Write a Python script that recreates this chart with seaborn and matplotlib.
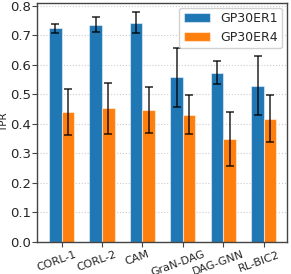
import pandas as pd
import seaborn as sns
import numpy as np
import matplotlib.pyplot as plt
import matplotlib.transforms as mtransforms

# TPR values
methods = ['CORL-1', 'CORL-2', 'CAM', 'GraN-DAG', 'DAG-GNN', 'RL-BIC2']
er1_mean = [0.723, 0.735, 0.743, 0.557, 0.573, 0.528]
er1_err = [0.016, 0.025, 0.036, 0.100, 0.038, 0.100]
er4_mean = [0.439, 0.452, 0.447, 0.431, 0.348, 0.417]
er4_err = [0.078, 0.086, 0.078, 0.065, 0.093, 0.080]
series = ['GP30ER1', 'GP30ER4']

df = pd.DataFrame({
    'Method': methods * 2,
    'TPR': er1_mean + er4_mean,
    'err': er1_err + er4_err,
    'Dataset': [series[0]] * len(methods) + [series[1]] * len(methods),
})

sns.set_style('whitegrid')
plt.rcParams['font.family'] = ['DejaVu Sans']

fig, ax = plt.subplots(figsize=(2.91, 2.74), dpi=100)
sns.barplot(data=df, x='Method', y='TPR', hue='Dataset', palette=['#1f77b4', '#ff7f0e'],
            width=0.62, gap=0, errorbar=None, edgecolor=(1, 1, 1, 0.5), linewidth=0.8,
            saturation=1, ax=ax)

# error bars at bar centres
for cont, err in zip(ax.containers, [er1_err, er4_err]):
    xs = [b.get_x() + b.get_width() / 2 for b in cont]
    ys = [b.get_height() for b in cont]
    ax.errorbar(xs, ys, yerr=err, fmt='none', ecolor='black', elinewidth=1.1,
                capsize=3, capthick=1.1, alpha=0.85)

ax.set_xlim(-0.6, 5.57)
ax.set_ylim(0, 0.81)
ax.set_yticks(np.arange(0, 0.81, 0.1))
ax.set_xlabel('')
ax.set_ylabel('TPR', fontsize=7.5, labelpad=1)
ax.tick_params(axis='y', labelsize=9.5, length=3.5, color='#444444', left=True, pad=1)
ax.tick_params(axis='x', labelsize=8, length=3.5, color='#444444', bottom=True, pad=2)
# rotated labels sit a little left of their ticks
shift = mtransforms.ScaledTranslation(-5 / 100, 0, fig.dpi_scale_trans)
for lbl in ax.get_xticklabels():
    lbl.set_rotation(20)
    lbl.set_transform(lbl.get_transform() + shift)
ax.grid(axis='x', visible=False)
ax.grid(axis='y', linestyle=':', color='#cccccc', linewidth=0.8)
for s in ax.spines.values():
    s.set_color('#444444')
    s.set_linewidth(1)

ax.legend(title=None, loc='upper right', fontsize=9, frameon=True, borderpad=0.35,
          handlelength=2.1, handleheight=0.7, labelspacing=0.45, handletextpad=0.8,
          borderaxespad=0.4, framealpha=0.9)

fig.subplots_adjust(left=0.128, right=0.986, top=0.99, bottom=0.118)
fig.savefig('out.png', dpi=100)
